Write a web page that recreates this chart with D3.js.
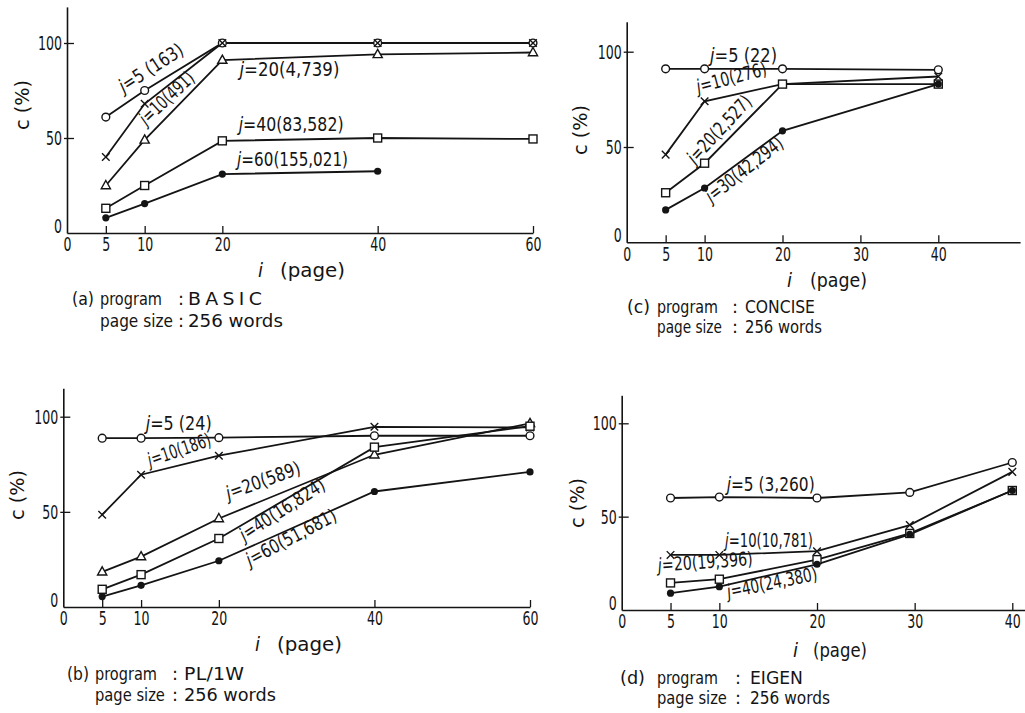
<!DOCTYPE html>
<html>
<head>
<meta charset="utf-8">
<script src="https://cdn.jsdelivr.net/npm/d3@7"></script>
<style>
  body { margin: 0; background: #fff; }
  svg { display: block; }
</style>
</head>
<body>
<div id="drawing"></div>
<script>
// (a) BASIC
var basicPages = [5, 10, 20, 40, 60];
var basicJ5 = [61, 75, 100, 100, 100];
var basicJ10 = [40, 68, 100, 100, 100];
var basicJ20 = [25, 49, 91, 94, 95];
var basicJ40 = [13, 25, 48.5, 50, 49.5];
var basicJ60 = [8, 15.5, 31, 32.5];
var basicLabels = ["j=5 (163)", "j=10(491)", "j=20(4,739)", "j=40(83,582)", "j=60(155,021)"];

// (b) PL/1W
var plPages = [5, 10, 20, 40, 60];
var plJ5 = [88.7, 88.7, 89, 90, 90];
var plJ10 = [48.5, 69.5, 79.5, 94.7, 94.4];
var plJ20 = [18.5, 26.5, 46.5, 80, 96.5];
var plJ40 = [9.3, 17, 36, 84, 95];
var plJ60 = [5.5, 11.4, 24.3, 60.7, 71];
var plLabels = ["j=5 (24)", "j=10(186)", "j=20(589)", "j=40(16,824)", "j=60(51,681)"];

// (c) CONCISE
var concisePages = [5, 10, 20, 40];
var conciseJ5 = [91, 91, 91, 90.5];
var conciseJ10 = [46, 74, 83, 87];
var conciseJ20 = [26, 41.5, 83, 83];
var conciseJ30 = [17, 28.5, 58.5, 83];
var conciseLabels = ["j=5 (22)", "j=10(276)", "j=20(2,527)", "j=30(42,294)"];

// (d) EIGEN
var eigenPages = [5, 10, 20, 29.5, 40];
var eigenJ5 = [60, 60.5, 60, 63, 79];
var eigenJ10 = [29.5, 29.5, 31.5, 45.5, 74];
var eigenJ20 = [14.5, 16.5, 27, 41, 64];
var eigenJ40 = [9, 12.5, 24.5, 40.5, 64];
var eigenLabels = ["j=5 (3,260)", "j=10(10,781)", "j=20(19,396)", "j=40(24,380)"];

var yTicks = [0, 50, 100];
var xTicksLong = [0, 5, 10, 20, 40, 60];
var xTicksShort = [0, 5, 10, 20, 30, 40];

var INK = "#141414";
var FONT = "'DejaVu Sans Condensed','DejaVu Sans','Liberation Sans',sans-serif";

var fig;
(function (fig) {
    // layout of each panel: pixel frame, annotation anchors (data coords), caption columns
    var panels = [
        {
            pages: basicPages, series: [basicJ5, basicJ10, basicJ20, basicJ40, basicJ60],
            marks: ["circle", "cross", "triangle", "square", "dot"], labels: basicLabels,
            xDom: 60, xr: [67, 533], xEnd: 60, yr: [233, 43], yTop: 119, xTicks: xTicksLong,
            notes: [[7.3, 73.5, -33, 73], [10.2, 56.3, -43, 68], [22.2, 82.5, 0, 100], [22.1, 53.5, 0, 105], [21.9, 35.5, 0, 111]],
            cLab: [22, 105], iLab: [258, 277, 280, 65],
            cap: { tag: "(a)", prog: "BASIC", rows: [305, 327], cols: [72, 100, 178, 188], w: [22, 62, 74, 73, 95] }
        },
        {
            pages: plPages, series: [plJ5, plJ10, plJ20, plJ40, plJ60],
            marks: ["circle", "cross", "triangle", "square", "dot"], labels: plLabels,
            xDom: 60, xr: [63.3, 530], xEnd: 60, yr: [607, 416.7], yTop: 115, xTicks: xTicksLong,
            notes: [[10.6, 93.0, 0, 66], [11.15, 73.7, -19, 66], [21.25, 56.2, -20, 78], [23.3, 34.3, -33, 98], [24.0, 21.2, -28, 100]],
            cLab: [17, 495], iLab: [255, 651, 277, 65],
            cap: { tag: "(b)", prog: "PL/1W", rows: [680, 701], cols: [67, 95, 172, 184], w: [22, 62, 60, 70, 92] }
        },
        {
            pages: concisePages, series: [conciseJ5, conciseJ10, conciseJ20, conciseJ30],
            marks: ["circle", "cross", "square", "dot"], labels: conciseLabels,
            xDom: 40, xr: [626.7, 938.3], xEnd: 50.5, yr: [242.3, 51.7], yTop: 115.7, xTicks: xTicksShort,
            notes: [[10.7, 94.8, 0, 67], [9.19, 78.2, -15, 72], [8.77, 40.6, -47, 85], [10.9, 20.5, -38, 93]],
            cLab: [580, 130], iLab: [787, 286.7, 810, 57],
            cap: { tag: "(c)", prog: "CONCISE", rows: [313, 333], cols: [627, 657, 732, 745], w: [23, 61, 70, 65, 77] }
        },
        {
            pages: eigenPages, series: [eigenJ5, eigenJ10, eigenJ20, eigenJ40],
            marks: ["circle", "cross", "square", "dot"], labels: eigenLabels,
            xDom: 40, xr: [621.7, 1012.3], xEnd: 41.3, yr: [610, 423.3], yTop: 115, xTicks: xTicksShort,
            notes: [[10.75, 63.9, 0, 88], [10.58, 33.9, 0, 88], [3.75, 20.5, -4, 95], [10.9, 6.3, -11.5, 92]],
            cLab: [577, 503], iLab: [793, 656.7, 813, 54],
            cap: { tag: "(d)", prog: "EIGEN", rows: [684, 704], cols: [620, 657, 735, 750], w: [25, 61, 53, 70, 80] }
        }
    ];

    function marker(g, kind, cx, cy) {
        if (kind === "circle") {
            g.append("circle").attr("cx", cx).attr("cy", cy).attr("r", 3.9)
                .attr("fill", "#fff").attr("stroke", INK).attr("stroke-width", 1.4);
        } else if (kind === "dot") {
            g.append("circle").attr("cx", cx).attr("cy", cy).attr("r", 3.6).attr("fill", INK);
        } else if (kind === "square") {
            g.append("rect").attr("x", cx - 4).attr("y", cy - 4).attr("width", 8).attr("height", 8)
                .attr("fill", "#fff").attr("stroke", INK).attr("stroke-width", 1.4);
        } else if (kind === "triangle") {
            g.append("path")
                .attr("d", "M" + cx + "," + (cy - 5) + "L" + (cx + 4.6) + "," + (cy + 3.2) + "L" + (cx - 4.6) + "," + (cy + 3.2) + "Z")
                .attr("fill", "#fff").attr("stroke", INK).attr("stroke-width", 1.4);
        } else {
            var s = 3.8;
            g.append("path")
                .attr("d", "M" + (cx - s) + "," + (cy - s) + "L" + (cx + s) + "," + (cy + s) +
                    "M" + (cx - s) + "," + (cy + s) + "L" + (cx + s) + "," + (cy - s))
                .attr("fill", "none").attr("stroke", INK).attr("stroke-width", 1.4);
        }
    }

    // fit text to a length: squeeze narrow glyphs, or widen a little and spread the rest
    function fit(t, x, y, rot, len) {
        var w = t.node().getComputedTextLength();
        var k = w > 0 ? len / w : 1;
        if (k > 1) {
            var n = t.text().length;
            var kk = Math.min(k, 1.2);
            t.attr("letter-spacing", ((len - w * kk) / Math.max(n - 1, 1) / kk) + "px");
            k = kk;
        }
        t.attr("transform", "translate(" + x + "," + y + ") rotate(" + rot + ") scale(" + k + ",1)");
        return t;
    }

    // text with italic first letter (j)
    function jText(g, str, x, y, rot, len, size) {
        var t = g.append("text")
            .attr("font-family", FONT).attr("font-size", size).attr("fill", INK);
        t.append("tspan").attr("font-style", "italic").text(str.charAt(0));
        t.append("tspan").text(str.slice(1));
        return fit(t, x, y, rot, len);
    }

    function plain(g, str, x, y, len, size) {
        var t = g.append("text")
            .attr("font-family", FONT).attr("font-size", size).attr("fill", INK)
            .text(str);
        return fit(t, x, y, 0, len);
    }

    function narrow(sel) {
        sel.attr("font-family", FONT).attr("font-size", 20).attr("fill", INK)
            .each(function (d) {
                var w = this.getComputedTextLength();
                var k = (String(d).length * 8) / w;
                var ax = +this.getAttribute("x") || 0;
                d3.select(this).attr("transform",
                    "translate(" + ax + ",0) scale(" + k + ",1) translate(" + (-ax) + ",0)");
            });
    }

    function drawPanel(svg, p) {
        var x = d3.scaleLinear().domain([0, p.xDom]).range(p.xr);
        var y = d3.scaleLinear().domain([0, 100]).range(p.yr);
        var g = svg.append("g");

        // x axis, ticks pointing up
        var xa = g.append("g").attr("transform", "translate(0," + y(0) + ")")
            .call(d3.axisBottom(d3.scaleLinear().domain([0, p.xEnd]).range([x(0), x(p.xEnd)]))
                .tickValues(p.xTicks).tickSizeInner(-7).tickSizeOuter(0).tickPadding(4));
        xa.attr("font-family", null);
        xa.select(".domain").attr("stroke", INK).attr("stroke-width", 1.6);
        xa.selectAll(".tick line").attr("stroke", INK).attr("stroke-width", 1.3);
        xa.selectAll(".tick line").filter(function (d) { return d === 0; }).remove();
        narrow(xa.selectAll(".tick text"));

        // y axis
        var ya = g.append("g").attr("transform", "translate(" + x(0) + ",0)")
            .call(d3.axisLeft(d3.scaleLinear().domain([0, p.yTop]).range([y(0), y(p.yTop)]))
                .tickValues(yTicks).tickSizeInner(3).tickSizeOuter(0).tickPadding(2));
        ya.attr("font-family", null);
        ya.select(".domain").attr("stroke", INK).attr("stroke-width", 1.6);
        ya.selectAll(".tick line").attr("stroke", INK).attr("stroke-width", 1.3).attr("x2", 7).attr("x1", -3);
        ya.selectAll(".tick line").filter(function (d) { return d === 0; }).remove();
        narrow(ya.selectAll(".tick text"));
        ya.selectAll(".tick text").filter(function (d) { return d === 0; }).attr("dy", "-0.05em");

        // lines
        var line = d3.line()
            .x(function (d) { return x(d[0]); })
            .y(function (d) { return y(d[1]); });
        p.series.forEach(function (vals) {
            var pts = vals.map(function (v, i) { return [p.pages[i], v]; });
            g.append("path").datum(pts).attr("d", line)
                .attr("fill", "none").attr("stroke", INK).attr("stroke-width", 1.8);
        });
        p.series.forEach(function (vals, k) {
            vals.forEach(function (v, i) { marker(g, p.marks[k], x(p.pages[i]), y(v)); });
        });

        // curve labels
        p.labels.forEach(function (lab, k) {
            var n = p.notes[k];
            jText(g, lab, x(n[0]), y(n[1]), n[2], n[3], 19);
        });

        // axis titles
        var ct = g.append("text")
            .attr("text-anchor", "middle").attr("dy", "0.35em")
            .attr("font-family", FONT).attr("font-size", 19).attr("fill", INK)
            .text("c (%)");
        fit(ct, p.cLab[0], p.cLab[1], -90, 50);
        g.append("text").attr("x", p.iLab[0]).attr("y", p.iLab[1])
            .attr("font-family", FONT).attr("font-size", 20).attr("font-style", "italic")
            .attr("fill", INK).text("i");
        plain(g, "(page)", p.iLab[2], p.iLab[1], p.iLab[3], 19);

        // caption
        var c = p.cap;
        plain(g, c.tag, c.cols[0], c.rows[0], c.w[0], 17.5);
        plain(g, "program", c.cols[1], c.rows[0], c.w[1], 17.5);
        plain(g, ":", c.cols[2], c.rows[0], 6, 17.5);
        plain(g, c.prog, c.cols[3], c.rows[0], c.w[2], 17.5);
        plain(g, "page size", c.cols[1], c.rows[1], c.w[3], 17.5);
        plain(g, ":", c.cols[2], c.rows[1], 6, 17.5);
        plain(g, "256 words", c.cols[3], c.rows[1], c.w[4], 17.5);
    }

    function main() {
        var svg = d3.select("#drawing").append("svg")
            .attr("width", 1025).attr("height", 713)
            .style("background", "#fff");
        panels.forEach(function (p) { drawPanel(svg, p); });
    }
    fig.main = main;
})(fig || (fig = {}));
fig.main();
</script>
</body>
</html>
